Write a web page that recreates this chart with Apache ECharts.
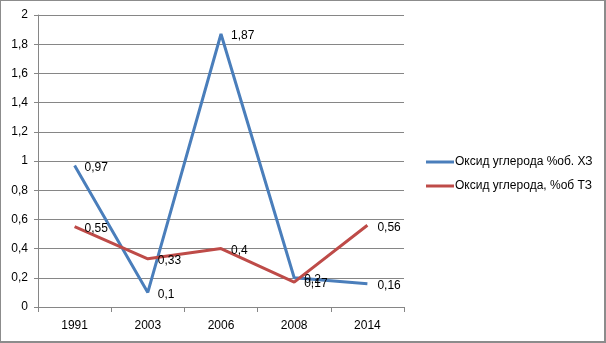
<!DOCTYPE html>
<html><head><meta charset="utf-8">
<script src="https://cdn.jsdelivr.net/npm/echarts@6/dist/echarts.min.js"></script>
<style>html,body{margin:0;padding:0;background:#fff}#c{width:606px;height:343px;box-sizing:border-box;border:1px solid #8c8c8c;border-right-width:2px;border-bottom-width:2px}</style>
</head><body><div id="c"></div>
<script>
const categories = ['1991', '2003', '2006', '2008', '2014'];
const seriesNames = ['Оксид углерода %об. ХЗ', 'Оксид углерода, %об ТЗ'];
const valuesXZ = [0.97, 0.1, 1.87, 0.2, 0.16];
const valuesTZ = [0.55, 0.33, 0.4, 0.17, 0.56];
const colors = ['#4a7ebb', '#be4b48'];
const fmt = v => String(v).replace('.', ',');
const chart = echarts.init(document.getElementById('c'), null, {renderer: 'canvas'});
const font = 'Liberation Sans';
const lbl = {show: true, position: 'right', distance: 10, offset: [0, 2], fontFamily: font, fontSize: 12, color: '#000', formatter: p => fmt(p.value)};
chart.setOption({
  animation: false,
  textStyle: {fontFamily: font},
  grid: {left: 37, right: 200, top: 14, bottom: 34, containLabel: false},
  legend: {
    orient: 'vertical', left: 420, top: 150, itemGap: 12,
    itemWidth: 28, itemHeight: 3, icon: 'rect',
    textStyle: {fontFamily: font, fontSize: 12, color: '#000', padding: [0, 0, 0, -4]},
    data: seriesNames
  },
  xAxis: {
    type: 'category', data: categories, boundaryGap: true,
    axisLine: {lineStyle: {color: '#868686', width: 1}},
    axisTick: {show: true, length: 5, lineStyle: {color: '#868686'}},
    axisLabel: {fontFamily: font, fontSize: 12, color: '#000', margin: 13}
  },
  yAxis: {
    type: 'value', min: 0, max: 2, interval: 0.2,
    axisLine: {show: true, lineStyle: {color: '#868686'}},
    axisTick: {show: true, length: 4, lineStyle: {color: '#868686'}},
    splitLine: {lineStyle: {color: '#868686', width: 1}},
    axisLabel: {fontFamily: font, fontSize: 12, color: '#000', margin: 10,
      formatter: v => fmt(Math.round(v * 10) / 10)}
  },
  series: [
    {name: seriesNames[0], type: 'line', data: valuesXZ, symbol: 'circle', symbolSize: 0, showSymbol: true,
     lineStyle: {color: colors[0], width: 3}, itemStyle: {color: colors[0]}, label: lbl},
    {name: seriesNames[1], type: 'line', data: valuesTZ, symbol: 'circle', symbolSize: 0, showSymbol: true,
     lineStyle: {color: colors[1], width: 3}, itemStyle: {color: colors[1]}, label: lbl}
  ]
});
</script></body></html>
